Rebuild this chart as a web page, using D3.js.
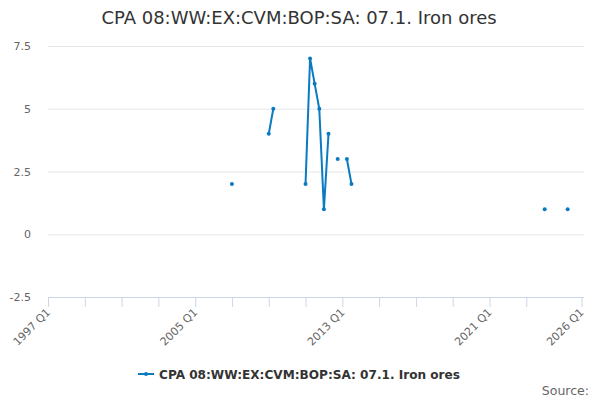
<!DOCTYPE html>
<html><head><meta charset="utf-8">
<script src="https://cdn.jsdelivr.net/npm/d3@7"></script>
<style>body{margin:0;background:#fff;font-family:"DejaVu Sans",Verdana,sans-serif;}</style>
</head><body><svg id="c" width="600" height="400"></svg>
<script>
const title = "CPA 08:WW:EX:CVM:BOP:SA: 07.1. Iron ores";
const seriesName = "CPA 08:WW:EX:CVM:BOP:SA: 07.1. Iron ores";
// quarters and values; null = gap
const periods = ["2007 Q1","2007 Q2","2008 Q4","2009 Q1","2009 Q2","2009 Q3","2010 Q4","2011 Q1","2011 Q2","2011 Q3","2011 Q4","2012 Q1","2012 Q2","2012 Q3","2012 Q4","2013 Q1","2013 Q2","2013 Q3","2013 Q4","2023 Q4","2024 Q1","2024 Q2","2025 Q1","2025 Q2","2025 Q3"];
const values  = [2,null,null,4,5,null,null,2,7,6,5,1,4,null,3,null,3,2,null,null,1,null,null,1,null];
const yTicks = [-2.5,0,2.5,5,7.5];
const xLabelYears = [1997,2005,2013,2021,2026];
const xTickYears = [1997,1999,2001,2003,2005,2007,2009,2011,2013,2015,2017,2019,2021,2023,2026];

(function(){
const toDate = p => { const [yy,q] = p.split(" Q"); return new Date(Date.UTC(+yy,(+q-1)*3,1)); };
const data = periods.map((p,i)=>({d:toDate(p), v:values[i]}));

const svg = d3.select("#c");
const pL=48, pR=581.5, pT=46, pB=297, gridRight=584;
const x = d3.scaleUtc().domain([new Date(Date.UTC(1997,0,1)), new Date(Date.UTC(2026,0,1))]).range([pL,pR]);
const y = d3.scaleLinear().domain([-2.5,7.5]).range([pB,pT]);

svg.append("text").attr("x",299).attr("y",24).attr("text-anchor","middle")
  .attr("font-size","18px").attr("fill","#333").text(title);

svg.append("g").selectAll("line").data(yTicks.filter(t=>t!==-2.5)).join("line")
  .attr("x1",pL).attr("x2",gridRight).attr("y1",d=>y(d)+0.5).attr("y2",d=>y(d)+0.5)
  .attr("stroke","#e6e6e6").attr("stroke-width",1);
svg.append("g").selectAll("text").data(yTicks).join("text")
  .attr("x",31).attr("y",d=>y(d)+4).attr("text-anchor","end")
  .attr("font-size","11px").attr("fill","#666").text(d=>d);

const xAxis = d3.axisBottom(x).tickValues(xTickYears.map(yy=>new Date(Date.UTC(yy,0,1)))).tickSize(10).tickFormat("");
const gx = svg.append("g").attr("transform",`translate(0,${pB})`).call(xAxis);
gx.select(".domain").attr("stroke","#ccd6eb").attr("d",`M${pL},0.5H${gridRight}`);
gx.selectAll(".tick line").attr("stroke","#ccd6eb");
svg.append("g").selectAll("text").data(xLabelYears).join("text")
  .attr("transform",d=>`translate(${x(new Date(Date.UTC(d,0,1)))+3},${pB+16}) rotate(-45)`)
  .attr("text-anchor","end").attr("font-size","11px").attr("fill","#666").text(d=>d+" Q1");

const color="#0a7bc1";
const line = d3.line().defined(d=>d.v!==null).x(d=>x(d.d)).y(d=>y(d.v));
svg.append("path").datum(data).attr("d",line).attr("fill","none").attr("stroke",color).attr("stroke-width",2);
svg.append("g").selectAll("circle").data(data.filter(d=>d.v!==null)).join("circle")
  .attr("cx",d=>x(d.d)).attr("cy",d=>y(d.v)).attr("r",2).attr("fill",color);

const lg = svg.append("g");
lg.append("line").attr("x1",138).attr("x2",154).attr("y1",374).attr("y2",374).attr("stroke",color).attr("stroke-width",2);
lg.append("circle").attr("cx",146).attr("cy",374).attr("r",2).attr("fill",color);
lg.append("text").attr("x",159).attr("y",378.5).attr("font-size","12.1px").attr("font-weight","bold").attr("fill","#333").text(seriesName);

svg.append("text").attr("x",589).attr("y",395).attr("text-anchor","end").attr("font-size","12.5px").attr("fill","#666").text("Source:");
})();
</script></body></html>
